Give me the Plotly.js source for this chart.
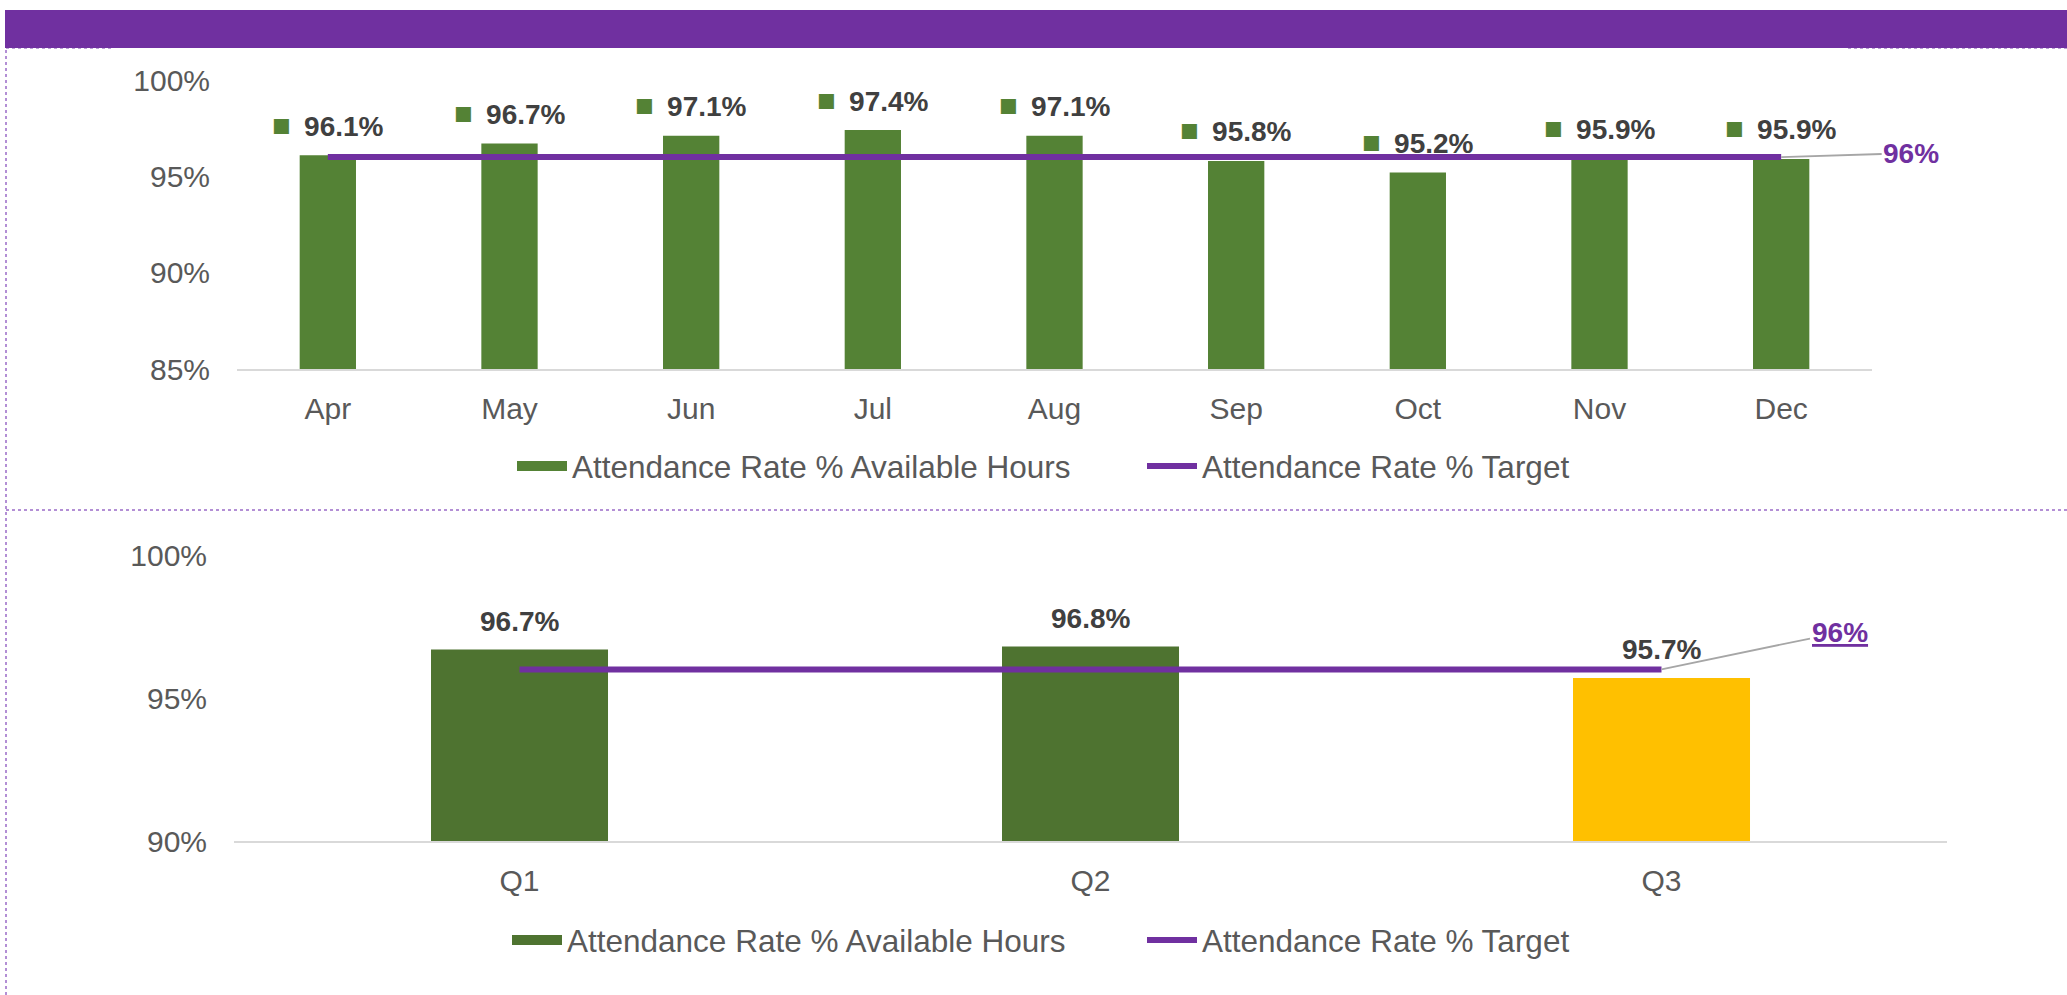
<!DOCTYPE html>
<html>
<head>
<meta charset="utf-8">
<script src="https://cdn.plot.ly/plotly-3.0.1.min.js"></script>
<style>html,body{margin:0;padding:0;background:#fff;}#chart{width:2067px;height:995px;}</style>
</head>
<body>
<div id="chart"></div>
<script>
// ---- data ----
var months = ['Apr', 'May', 'Jun', 'Jul', 'Aug', 'Sep', 'Oct', 'Nov', 'Dec'];
var monthlyRate = [96.1, 96.7, 97.1, 97.4, 97.1, 95.8, 95.2, 95.9, 95.9];
var monthlyTarget = [96, 96, 96, 96, 96, 96, 96, 96, 96];
var quarters = ['Q1', 'Q2', 'Q3'];
var quarterlyRate = [96.7, 96.8, 95.7];
var quarterlyTarget = [96, 96, 96];
var yTicksTop = [85, 90, 95, 100];
var yTicksBottom = [90, 95, 100];
var seriesBarName = 'Attendance Rate % Available Hours';
var seriesLineName = 'Attendance Rate % Target';
var targetLabel = '96%';

// ---- styles ----
var W = 2067, H = 995;
var PURPLE = '#7030A0';
var GREEN_TOP = '#548235';
var GREEN_BOT = '#4E7330';
var AMBER = '#FFC000';
var FONT = '"Liberation Sans", Arial, sans-serif';
var px = function (v) { return v / W; };
var py = function (v) { return 1 - v / H; };

var traces = [
  // legend key for the bar series (wide block like the original legend)
  {
    type: 'scatter', mode: 'lines', x: [null], y: [null], xaxis: 'x', yaxis: 'y',
    name: seriesBarName, line: { color: GREEN_TOP, width: 17 }, legend: 'legend', hoverinfo: 'skip'
  },
  {
    type: 'bar', x: months, y: monthlyRate, xaxis: 'x', yaxis: 'y',
    name: seriesBarName, marker: { color: GREEN_TOP }, showlegend: false
  },
  {
    type: 'scatter', mode: 'lines', x: months, y: monthlyTarget, xaxis: 'x', yaxis: 'y',
    name: seriesLineName, line: { color: PURPLE, width: 6 }, legend: 'legend'
  },
  {
    type: 'scatter', mode: 'lines', x: [null], y: [null], xaxis: 'x2', yaxis: 'y2',
    name: seriesBarName, line: { color: GREEN_BOT, width: 17 }, legend: 'legend2', hoverinfo: 'skip'
  },
  {
    type: 'bar', x: quarters, y: quarterlyRate, xaxis: 'x2', yaxis: 'y2',
    name: seriesBarName, showlegend: false,
    marker: { color: quarters.map(function (q, i) { return i === quarters.length - 1 ? AMBER : GREEN_BOT; }) }
  },
  {
    type: 'scatter', mode: 'lines', x: quarters, y: quarterlyTarget, xaxis: 'x2', yaxis: 'y2',
    name: seriesLineName, line: { color: PURPLE, width: 6 }, legend: 'legend2'
  }
];

var annotations = [];
months.forEach(function (m, i) {
  annotations.push({
    xref: 'x', yref: 'y', x: m, y: monthlyRate[i], yshift: 30,
    xanchor: 'center', yanchor: 'middle', showarrow: false,
    text: '<span style="color:' + GREEN_TOP + ';font-size:31px">\u25A0</span>\u00a0\u2009' + monthlyRate[i].toFixed(1) + '%',
    font: { family: FONT, size: 28, color: '#404040', weight: 'bold' }
  });
});
quarters.forEach(function (q, i) {
  annotations.push({
    xref: 'x2', yref: 'y2', x: q, y: quarterlyRate[i], yshift: 28,
    xanchor: 'center', yanchor: 'middle', showarrow: false,
    text: '<b>' + quarterlyRate[i].toFixed(1) + '%</b>',
    font: { family: FONT, size: 28, color: '#404040' }
  });
});
annotations.push({
  xref: 'x', yref: 'y', x: months[months.length - 1], y: monthlyTarget[monthlyTarget.length - 1],
  ax: 130, ay: -4, showarrow: true, arrowhead: 0, arrowwidth: 1.8, arrowcolor: '#A6A6A6',
  text: '<b>' + targetLabel + '</b>', font: { family: FONT, size: 28, color: PURPLE }
});
annotations.push({
  xref: 'x2', yref: 'y2', x: quarters[quarters.length - 1], y: quarterlyTarget[quarterlyTarget.length - 1],
  ax: 178, ay: -37, showarrow: true, arrowhead: 0, arrowwidth: 1.8, arrowcolor: '#A6A6A6',
  text: '<b><u>' + targetLabel + '</u></b>', font: { family: FONT, size: 28, color: PURPLE }
});

var axisFont = { family: FONT, size: 30, color: '#595959' };
var legendFont = { family: FONT, size: 31.5, color: '#595959' };
var layout = {
  width: W, height: H, autosize: false,
  margin: { l: 0, r: 0, t: 0, b: 0 },
  paper_bgcolor: '#ffffff', plot_bgcolor: '#ffffff',
  font: { family: FONT, color: '#595959' },
  bargap: 0.69,
  showlegend: true,
  xaxis: {
    domain: [px(237), px(1872)], anchor: 'y', type: 'category',
    autorange: false, range: [-0.5, months.length - 0.5],
    showline: true, linecolor: '#D9D9D9', linewidth: 2, showgrid: false, zeroline: false,
    ticks: '', tickfont: axisFont, ticklabelstandoff: 12, fixedrange: true
  },
  yaxis: {
    domain: [py(369), py(80)], anchor: 'x', range: [85, 100], autorange: false,
    tickvals: yTicksTop, ticktext: yTicksTop.map(function (v) { return v + '%'; }),
    showgrid: false, zeroline: false, showline: false, ticks: '',
    tickfont: axisFont, ticklabelstandoff: 26, fixedrange: true
  },
  xaxis2: {
    domain: [px(234), px(1947)], anchor: 'y2', type: 'category',
    autorange: false, range: [-0.5, quarters.length - 0.5],
    showline: true, linecolor: '#D9D9D9', linewidth: 2, showgrid: false, zeroline: false,
    ticks: '', tickfont: axisFont, ticklabelstandoff: 12, fixedrange: true
  },
  yaxis2: {
    domain: [py(841), py(555)], anchor: 'x2', range: [90, 100], autorange: false,
    tickvals: yTicksBottom, ticktext: yTicksBottom.map(function (v) { return v + '%'; }),
    showgrid: false, zeroline: false, showline: false, ticks: '',
    tickfont: axisFont, ticklabelstandoff: 26, fixedrange: true
  },
  legend: {
    orientation: 'h', x: px(512), xanchor: 'left', y: py(466), yanchor: 'middle',
    font: legendFont, bgcolor: 'rgba(0,0,0,0)', borderwidth: 0,
    itemwidth: 50, entrywidth: 565, entrywidthmode: 'pixels', traceorder: 'normal'
  },
  legend2: {
    orientation: 'h', x: px(507), xanchor: 'left', y: py(940), yanchor: 'middle',
    font: legendFont, bgcolor: 'rgba(0,0,0,0)', borderwidth: 0,
    itemwidth: 50, entrywidth: 570, entrywidthmode: 'pixels', traceorder: 'normal'
  },
  annotations: annotations,
  shapes: [
    { type: 'rect', xref: 'paper', yref: 'paper', x0: px(5), x1: 1, y0: py(48), y1: py(10),
      fillcolor: PURPLE, line: { width: 0 }, layer: 'below' },
    { type: 'line', xref: 'paper', yref: 'paper', x0: px(6), x1: px(6), y0: 0, y1: py(48),
      line: { color: '#9A6BC8', width: 1.5, dash: 'dot' } },
    { type: 'line', xref: 'paper', yref: 'paper', x0: px(6), x1: 1, y0: py(510), y1: py(510),
      line: { color: '#9A6BC8', width: 1.5, dash: 'dot' } },
    { type: 'line', xref: 'paper', yref: 'paper', x0: px(6), x1: px(112), y0: py(48.5), y1: py(48.5),
      line: { color: '#B9A0D4', width: 1.2, dash: 'dot' } },
    { type: 'line', xref: 'paper', yref: 'paper', x0: px(1848), x1: 1, y0: py(48.5), y1: py(48.5),
      line: { color: '#B9A0D4', width: 1.2, dash: 'dot' } }
  ]
};

Plotly.newPlot('chart', traces, layout, { displayModeBar: false, staticPlot: true });
</script>
</body>
</html>
